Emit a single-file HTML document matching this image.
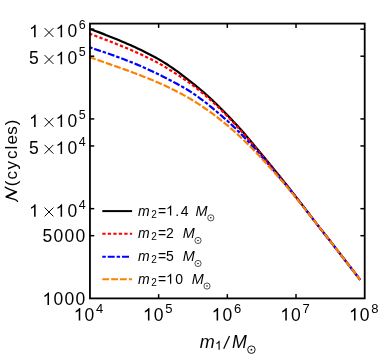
<!DOCTYPE html>
<html><head><meta charset="utf-8"><title>plot</title>
<style>
html,body{margin:0;padding:0;background:#fff;}
body{width:380px;height:354px;overflow:hidden;}
svg{display:block;will-change:transform;}
text{font-family:"Liberation Sans",sans-serif;fill:#000;}
</style></head><body>
<svg width="380" height="354" viewBox="0 0 380 354">
<rect x="0" y="0" width="380" height="354" fill="#fff"/>
<g fill="none" stroke-width="2.2" stroke-linecap="square" stroke-linejoin="round">
<path d="M90.20,28.97 L92.14,29.70 L94.07,30.43 L96.01,31.17 L97.95,31.90 L99.89,32.65 L101.82,33.39 L103.76,34.14 L105.70,34.90 L107.64,35.66 L109.57,36.42 L111.51,37.19 L113.45,37.97 L115.39,38.75 L117.32,39.54 L119.26,40.34 L121.20,41.15 L123.14,41.97 L125.07,42.80 L127.01,43.64 L128.95,44.49 L130.89,45.36 L132.82,46.23 L134.76,47.12 L136.70,48.02 L138.64,48.93 L140.57,49.86 L142.51,50.80 L144.45,51.75 L146.38,52.73 L148.32,53.71 L150.26,54.70 L152.20,55.71 L154.13,56.74 L156.07,57.79 L158.01,58.87 L159.95,59.98 L161.88,61.13 L163.82,62.32 L165.76,63.54 L167.70,64.79 L169.63,66.07 L171.57,67.39 L173.51,68.72 L175.45,70.09 L177.38,71.48 L179.32,72.90 L181.26,74.35 L183.20,75.83 L185.13,77.33 L187.07,78.84 L189.01,80.36 L190.95,81.89 L192.88,83.42 L194.82,84.97 L196.76,86.53 L198.69,88.12 L200.63,89.73 L202.57,91.38 L204.51,93.06 L206.44,94.77 L208.38,96.52 L210.32,98.30 L212.26,100.11 L214.19,101.95 L216.13,103.82 L218.07,105.73 L220.01,107.66 L221.94,109.61 L223.88,111.59 L225.82,113.59 L227.76,115.60 L229.69,117.61 L231.63,119.63 L233.57,121.66 L235.51,123.71 L237.44,125.79 L239.38,127.91 L241.32,130.08 L243.26,132.30 L245.19,134.55 L247.13,136.84 L249.07,139.14 L251.01,141.45 L252.94,143.77 L254.88,146.09 L256.82,148.42 L258.75,150.75 L260.69,153.08 L262.63,155.42 L264.57,157.76 L266.50,160.11 L268.44,162.47 L270.38,164.83 L272.32,167.22 L274.25,169.61 L276.19,172.00 L278.13,174.41 L280.07,176.81 L282.00,179.22 L283.94,181.62 L285.88,184.04 L287.82,186.46 L289.75,188.90 L291.69,191.35 L293.63,193.82 L295.57,196.31 L297.50,198.81 L299.44,201.32 L301.38,203.85 L303.32,206.38 L305.25,208.93 L307.19,211.47 L309.13,214.02 L311.06,216.55 L313.00,219.08 L314.94,221.60 L316.88,224.11 L318.81,226.60 L320.75,229.08 L322.69,231.54 L324.63,234.00 L326.56,236.45 L328.50,238.91 L330.44,241.38 L332.38,243.87 L334.31,246.37 L336.25,248.88 L338.19,251.39 L340.13,253.90 L342.06,256.41 L344.00,258.91 L345.94,261.42 L347.88,263.91 L349.81,266.41 L351.75,268.90 L353.69,271.40 L355.63,273.89 L357.56,276.39 L359.50,278.88" stroke="#000"/>
<path d="M90.20,33.90 L92.14,34.63 L94.07,35.36 L96.01,36.09 L97.95,36.82 L99.89,37.56 L101.82,38.29 L103.76,39.03 L105.70,39.78 L107.64,40.52 L109.57,41.27 L111.51,42.03 L113.45,42.79 L115.39,43.55 L117.32,44.32 L119.26,45.10 L121.20,45.89 L123.14,46.68 L125.07,47.49 L127.01,48.30 L128.95,49.12 L130.89,49.95 L132.82,50.79 L134.76,51.64 L136.70,52.51 L138.64,53.38 L140.57,54.27 L142.51,55.18 L144.45,56.10 L146.38,57.03 L148.32,57.97 L150.26,58.93 L152.20,59.89 L154.13,60.88 L156.07,61.88 L158.01,62.91 L159.95,63.98 L161.88,65.09 L163.82,66.23 L165.76,67.39 L167.70,68.58 L169.63,69.78 L171.57,70.99 L173.51,72.20 L175.45,73.43 L177.38,74.67 L179.32,75.93 L181.26,77.20 L183.20,78.50 L185.13,79.82 L187.07,81.17 L189.01,82.55 L190.95,83.96 L192.88,85.41 L194.82,86.88 L196.76,88.39 L198.69,89.93 L200.63,91.50 L202.57,93.10 L204.51,94.73 L206.44,96.39 L208.38,98.08 L210.32,99.81 L212.26,101.56 L214.19,103.35 L216.13,105.18 L218.07,107.03 L220.01,108.92 L221.94,110.84 L223.88,112.78 L225.82,114.76 L227.76,116.75 L229.69,118.76 L231.63,120.79 L233.57,122.83 L235.51,124.88 L237.44,126.96 L239.38,129.07 L241.32,131.21 L243.26,133.37 L245.19,135.56 L247.13,137.78 L249.07,140.02 L251.01,142.29 L252.94,144.58 L254.88,146.89 L256.82,149.21 L258.75,151.53 L260.69,153.86 L262.63,156.19 L264.57,158.52 L266.50,160.86 L268.44,163.20 L270.38,165.54 L272.32,167.89 L274.25,170.24 L276.19,172.60 L278.13,174.96 L280.07,177.33 L282.00,179.70 L283.94,182.08 L285.88,184.47 L287.82,186.87 L289.75,189.27 L291.69,191.69 L293.63,194.12 L295.57,196.57 L297.50,199.03 L299.44,201.50 L301.38,203.99 L303.32,206.50 L305.25,209.01 L307.19,211.53 L309.13,214.05 L311.06,216.58 L313.00,219.10 L314.94,221.61 L316.88,224.11 L318.81,226.60 L320.75,229.08 L322.69,231.54 L324.63,234.00 L326.56,236.45 L328.50,238.91 L330.44,241.38 L332.38,243.87 L334.31,246.37 L336.25,248.88 L338.19,251.39 L340.13,253.90 L342.06,256.41 L344.00,258.91 L345.94,261.42 L347.88,263.91 L349.81,266.41 L351.75,268.90 L353.69,271.40 L355.63,273.89 L357.56,276.39 L359.50,278.88" stroke="#f00" stroke-dasharray="1.1 4.4"/>
<path d="M90.20,47.46 L92.14,48.14 L94.07,48.80 L96.01,49.46 L97.95,50.11 L99.89,50.75 L101.82,51.40 L103.76,52.04 L105.70,52.70 L107.64,53.36 L109.57,54.03 L111.51,54.72 L113.45,55.42 L115.39,56.13 L117.32,56.85 L119.26,57.57 L121.20,58.30 L123.14,59.03 L125.07,59.77 L127.01,60.52 L128.95,61.27 L130.89,62.03 L132.82,62.80 L134.76,63.59 L136.70,64.39 L138.64,65.21 L140.57,66.04 L142.51,66.89 L144.45,67.75 L146.38,68.62 L148.32,69.50 L150.26,70.39 L152.20,71.28 L154.13,72.18 L156.07,73.09 L158.01,74.02 L159.95,74.96 L161.88,75.93 L163.82,76.92 L165.76,77.92 L167.70,78.93 L169.63,79.95 L171.57,80.96 L173.51,81.98 L175.45,83.00 L177.38,84.04 L179.32,85.09 L181.26,86.16 L183.20,87.25 L185.13,88.38 L187.07,89.54 L189.01,90.74 L190.95,91.98 L192.88,93.27 L194.82,94.60 L196.76,95.97 L198.69,97.37 L200.63,98.79 L202.57,100.23 L204.51,101.70 L206.44,103.20 L208.38,104.72 L210.32,106.28 L212.26,107.87 L214.19,109.48 L216.13,111.12 L218.07,112.77 L220.01,114.44 L221.94,116.11 L223.88,117.80 L225.82,119.50 L227.76,121.23 L229.69,122.99 L231.63,124.78 L233.57,126.61 L235.51,128.48 L237.44,130.38 L239.38,132.31 L241.32,134.28 L243.26,136.28 L245.19,138.31 L247.13,140.37 L249.07,142.46 L251.01,144.57 L252.94,146.71 L254.88,148.87 L256.82,151.05 L258.75,153.25 L260.69,155.46 L262.63,157.68 L264.57,159.91 L266.50,162.15 L268.44,164.40 L270.38,166.66 L272.32,168.94 L274.25,171.22 L276.19,173.52 L278.13,175.82 L280.07,178.12 L282.00,180.43 L283.94,182.74 L285.88,185.06 L287.82,187.39 L289.75,189.73 L291.69,192.09 L293.63,194.46 L295.57,196.86 L297.50,199.26 L299.44,201.69 L301.38,204.13 L303.32,206.58 L305.25,209.05 L307.19,211.53 L309.13,214.03 L311.06,216.54 L313.00,219.06 L314.94,221.58 L316.88,224.09 L318.81,226.60 L320.75,229.08 L322.69,231.55 L324.63,234.00 L326.56,236.45 L328.50,238.91 L330.44,241.38 L332.38,243.87 L334.31,246.37 L336.25,248.88 L338.19,251.39 L340.13,253.90 L342.06,256.41 L344.00,258.91 L345.94,261.41 L347.88,263.91 L349.81,266.41 L351.75,268.91 L353.69,271.42 L355.63,273.94 L357.56,276.46 L359.50,279.00" stroke="#00f" stroke-dasharray="1.3 4.1 4.8 4.1"/>
<path d="M90.20,57.35 L92.14,58.04 L94.07,58.73 L96.01,59.41 L97.95,60.09 L99.89,60.77 L101.82,61.45 L103.76,62.12 L105.70,62.80 L107.64,63.48 L109.57,64.15 L111.51,64.83 L113.45,65.51 L115.39,66.18 L117.32,66.87 L119.26,67.55 L121.20,68.24 L123.14,68.93 L125.07,69.62 L127.01,70.32 L128.95,71.02 L130.89,71.74 L132.82,72.45 L134.76,73.18 L136.70,73.91 L138.64,74.65 L140.57,75.40 L142.51,76.16 L144.45,76.92 L146.38,77.70 L148.32,78.48 L150.26,79.28 L152.20,80.08 L154.13,80.90 L156.07,81.73 L158.01,82.57 L159.95,83.43 L161.88,84.29 L163.82,85.18 L165.76,86.07 L167.70,86.99 L169.63,87.91 L171.57,88.86 L173.51,89.82 L175.45,90.80 L177.38,91.79 L179.32,92.80 L181.26,93.83 L183.20,94.88 L185.13,95.94 L187.07,97.03 L189.01,98.15 L190.95,99.29 L192.88,100.46 L194.82,101.65 L196.76,102.87 L198.69,104.11 L200.63,105.37 L202.57,106.66 L204.51,107.97 L206.44,109.30 L208.38,110.65 L210.32,112.04 L212.26,113.46 L214.19,114.90 L216.13,116.37 L218.07,117.86 L220.01,119.39 L221.94,120.93 L223.88,122.50 L225.82,124.09 L227.76,125.71 L229.69,127.37 L231.63,129.05 L233.57,130.76 L235.51,132.50 L237.44,134.26 L239.38,136.05 L241.32,137.87 L243.26,139.70 L245.19,141.57 L247.13,143.45 L249.07,145.37 L251.01,147.31 L252.94,149.28 L254.88,151.27 L256.82,153.29 L258.75,155.33 L260.69,157.39 L262.63,159.47 L264.57,161.56 L266.50,163.67 L268.44,165.79 L270.38,167.93 L272.32,170.07 L274.25,172.23 L276.19,174.40 L278.13,176.59 L280.07,178.81 L282.00,181.04 L283.94,183.30 L285.88,185.58 L287.82,187.88 L289.75,190.20 L291.69,192.54 L293.63,194.90 L295.57,197.27 L297.50,199.66 L299.44,202.07 L301.38,204.50 L303.32,206.94 L305.25,209.39 L307.19,211.85 L309.13,214.32 L311.06,216.78 L313.00,219.25 L314.94,221.71 L316.88,224.16 L318.81,226.62 L320.75,229.07 L322.69,231.52 L324.63,233.97 L326.56,236.43 L328.50,238.90 L330.44,241.38 L332.38,243.88 L334.31,246.39 L336.25,248.91 L338.19,251.43 L340.13,253.95 L342.06,256.47 L344.00,258.99 L345.94,261.50 L347.88,264.00 L349.81,266.50 L351.75,268.99 L353.69,271.48 L355.63,273.96 L357.56,276.44 L359.50,278.90" stroke="#ff8000" stroke-dasharray="4.6 4.25"/>
</g>
<rect x="89.95" y="23.60" width="274.75" height="274.80" fill="none" stroke="#000" stroke-width="1.80"/>
<g stroke="#000" stroke-width="1.5"><line x1="158.64" y1="298.40" x2="158.64" y2="294.10"/><line x1="158.64" y1="23.60" x2="158.64" y2="27.90"/><line x1="227.32" y1="298.40" x2="227.32" y2="294.10"/><line x1="227.32" y1="23.60" x2="227.32" y2="27.90"/><line x1="296.01" y1="298.40" x2="296.01" y2="294.10"/><line x1="296.01" y1="23.60" x2="296.01" y2="27.90"/><line x1="89.95" y1="235.68" x2="94.25" y2="235.68"/><line x1="364.70" y1="235.68" x2="360.40" y2="235.68"/><line x1="89.95" y1="208.67" x2="94.25" y2="208.67"/><line x1="364.70" y1="208.67" x2="360.40" y2="208.67"/><line x1="89.95" y1="145.95" x2="94.25" y2="145.95"/><line x1="364.70" y1="145.95" x2="360.40" y2="145.95"/><line x1="89.95" y1="118.93" x2="94.25" y2="118.93"/><line x1="364.70" y1="118.93" x2="360.40" y2="118.93"/><line x1="89.95" y1="56.21" x2="94.25" y2="56.21"/><line x1="364.70" y1="56.21" x2="360.40" y2="56.21"/><line x1="89.95" y1="29.20" x2="94.25" y2="29.20"/><line x1="364.70" y1="29.20" x2="360.40" y2="29.20"/></g>
<g fill="#000">
<path d="M763 0H583V1147Q518 1085 412.5 1023T223 930V1104Q373 1174 485 1274T644 1466H763Z" transform="translate(29.10,37.30) scale(0.00854,-0.00854)"/><path d="M44.60,28.10 L53.40,36.90 M44.60,36.90 L53.40,28.10" stroke="#000" stroke-width="1.00" fill="none"/><path d="M763 0H583V1147Q518 1085 412.5 1023T223 930V1104Q373 1174 485 1274T644 1466H763Z" transform="translate(55.60,37.30) scale(0.00854,-0.00854)"/><text x="67.40" y="37.30" font-size="17.5">0</text><text x="78.70" y="29.30" font-size="12.5">6</text><text x="29.10" y="64.31" font-size="17.5">5</text><path d="M44.60,55.11 L53.40,63.91 M44.60,63.91 L53.40,55.11" stroke="#000" stroke-width="1.00" fill="none"/><path d="M763 0H583V1147Q518 1085 412.5 1023T223 930V1104Q373 1174 485 1274T644 1466H763Z" transform="translate(55.60,64.31) scale(0.00854,-0.00854)"/><text x="67.40" y="64.31" font-size="17.5">0</text><text x="78.70" y="56.31" font-size="12.5">5</text><path d="M763 0H583V1147Q518 1085 412.5 1023T223 930V1104Q373 1174 485 1274T644 1466H763Z" transform="translate(29.10,127.03) scale(0.00854,-0.00854)"/><path d="M44.60,117.83 L53.40,126.63 M44.60,126.63 L53.40,117.83" stroke="#000" stroke-width="1.00" fill="none"/><path d="M763 0H583V1147Q518 1085 412.5 1023T223 930V1104Q373 1174 485 1274T644 1466H763Z" transform="translate(55.60,127.03) scale(0.00854,-0.00854)"/><text x="67.40" y="127.03" font-size="17.5">0</text><text x="78.70" y="119.03" font-size="12.5">5</text><text x="29.10" y="154.05" font-size="17.5">5</text><path d="M44.60,144.85 L53.40,153.65 M44.60,153.65 L53.40,144.85" stroke="#000" stroke-width="1.00" fill="none"/><path d="M763 0H583V1147Q518 1085 412.5 1023T223 930V1104Q373 1174 485 1274T644 1466H763Z" transform="translate(55.60,154.05) scale(0.00854,-0.00854)"/><text x="67.40" y="154.05" font-size="17.5">0</text><text x="78.70" y="146.05" font-size="12.5">4</text><path d="M763 0H583V1147Q518 1085 412.5 1023T223 930V1104Q373 1174 485 1274T644 1466H763Z" transform="translate(29.10,216.77) scale(0.00854,-0.00854)"/><path d="M44.60,207.57 L53.40,216.37 M44.60,216.37 L53.40,207.57" stroke="#000" stroke-width="1.00" fill="none"/><path d="M763 0H583V1147Q518 1085 412.5 1023T223 930V1104Q373 1174 485 1274T644 1466H763Z" transform="translate(55.60,216.77) scale(0.00854,-0.00854)"/><text x="67.40" y="216.77" font-size="17.5">0</text><text x="78.70" y="208.77" font-size="12.5">4</text><text x="42.50" y="242.38" font-size="17.5">5</text><text x="53.50" y="242.38" font-size="17.5">0</text><text x="64.50" y="242.38" font-size="17.5">0</text><text x="75.50" y="242.38" font-size="17.5">0</text><path d="M763 0H583V1147Q518 1085 412.5 1023T223 930V1104Q373 1174 485 1274T644 1466H763Z" transform="translate(42.50,304.90) scale(0.00854,-0.00854)"/><text x="53.50" y="304.90" font-size="17.5">0</text><text x="64.50" y="304.90" font-size="17.5">0</text><text x="75.50" y="304.90" font-size="17.5">0</text><path d="M763 0H583V1147Q518 1085 412.5 1023T223 930V1104Q373 1174 485 1274T644 1466H763Z" transform="translate(73.75,320.50) scale(0.00854,-0.00854)"/><text x="84.55" y="320.50" font-size="17.5">0</text><text x="96.05" y="312.60" font-size="13">4</text><path d="M763 0H583V1147Q518 1085 412.5 1023T223 930V1104Q373 1174 485 1274T644 1466H763Z" transform="translate(142.94,320.50) scale(0.00854,-0.00854)"/><text x="153.74" y="320.50" font-size="17.5">0</text><text x="165.24" y="312.60" font-size="13">5</text><path d="M763 0H583V1147Q518 1085 412.5 1023T223 930V1104Q373 1174 485 1274T644 1466H763Z" transform="translate(211.62,320.50) scale(0.00854,-0.00854)"/><text x="222.42" y="320.50" font-size="17.5">0</text><text x="233.92" y="312.60" font-size="13">6</text><path d="M763 0H583V1147Q518 1085 412.5 1023T223 930V1104Q373 1174 485 1274T644 1466H763Z" transform="translate(280.31,320.50) scale(0.00854,-0.00854)"/><text x="291.11" y="320.50" font-size="17.5">0</text><text x="302.61" y="312.60" font-size="13">7</text><path d="M763 0H583V1147Q518 1085 412.5 1023T223 930V1104Q373 1174 485 1274T644 1466H763Z" transform="translate(349.00,320.50) scale(0.00854,-0.00854)"/><text x="359.80" y="320.50" font-size="17.5">0</text><text x="371.30" y="312.60" font-size="13">8</text>
<line x1="103.3" y1="211.10" x2="131.1" y2="211.10" stroke="#000" stroke-width="2" stroke-linecap="square"/><text x="138.00" y="215.50" font-size="14" font-style="italic">m</text><text x="151.20" y="217.80" font-size="10">2</text><text x="158.00" y="215.50" font-size="14">=</text><path d="M763 0H583V1147Q518 1085 412.5 1023T223 930V1104Q373 1174 485 1274T644 1466H763Z" transform="translate(166.00,215.50) scale(0.00684,-0.00684)"/><text x="175.30" y="215.50" font-size="14">.</text><text x="180.70" y="215.50" font-size="14">4</text><text x="195.60" y="215.50" font-size="14.4" font-style="italic">M</text><circle cx="210.80" cy="217.85" r="3.10" fill="none" stroke="#000" stroke-width="0.68"/><circle cx="210.80" cy="217.85" r="0.75" fill="#000"/><line x1="103.3" y1="233.70" x2="131.1" y2="233.70" stroke="#f00" stroke-width="2" stroke-linecap="square" stroke-dasharray="1.3 4.2"/><text x="138.00" y="238.10" font-size="14" font-style="italic">m</text><text x="151.20" y="240.40" font-size="10">2</text><text x="158.00" y="238.10" font-size="14">=</text><text x="166.00" y="238.10" font-size="14">2</text><text x="182.80" y="238.10" font-size="14.4" font-style="italic">M</text><circle cx="198.00" cy="240.45" r="3.10" fill="none" stroke="#000" stroke-width="0.68"/><circle cx="198.00" cy="240.45" r="0.75" fill="#000"/><line x1="103.3" y1="256.70" x2="131.1" y2="256.70" stroke="#00f" stroke-width="2" stroke-linecap="square" stroke-dasharray="1.5 3.9 5 3.9"/><text x="138.00" y="261.10" font-size="14" font-style="italic">m</text><text x="151.20" y="263.40" font-size="10">2</text><text x="158.00" y="261.10" font-size="14">=</text><text x="166.00" y="261.10" font-size="14">5</text><text x="182.80" y="261.10" font-size="14.4" font-style="italic">M</text><circle cx="198.00" cy="263.45" r="3.10" fill="none" stroke="#000" stroke-width="0.68"/><circle cx="198.00" cy="263.45" r="0.75" fill="#000"/><line x1="103.3" y1="279.30" x2="131.1" y2="279.30" stroke="#ff8000" stroke-width="2" stroke-linecap="square" stroke-dasharray="4.8 4.05"/><text x="138.00" y="283.70" font-size="14" font-style="italic">m</text><text x="151.20" y="286.00" font-size="10">2</text><text x="158.00" y="283.70" font-size="14">=</text><path d="M763 0H583V1147Q518 1085 412.5 1023T223 930V1104Q373 1174 485 1274T644 1466H763Z" transform="translate(166.00,283.70) scale(0.00684,-0.00684)"/><text x="175.30" y="283.70" font-size="14">0</text><text x="191.80" y="283.70" font-size="14.4" font-style="italic">M</text><circle cx="207.00" cy="286.05" r="3.10" fill="none" stroke="#000" stroke-width="0.68"/><circle cx="207.00" cy="286.05" r="0.75" fill="#000"/>
<text x="199.70" y="347.50" font-size="18" font-style="italic">m</text><path d="M763 0H583V1147Q518 1085 412.5 1023T223 930V1104Q373 1174 485 1274T644 1466H763Z" transform="translate(215.00,349.80) scale(0.00610,-0.00610)"/><path d="M223.7,348.7 L229.5,336.1" stroke="#000" stroke-width="1.25" fill="none"/><text x="232.00" y="347.50" font-size="17.8" font-style="italic">M</text><circle cx="251.40" cy="349.70" r="3.75" fill="none" stroke="#000" stroke-width="0.90"/><circle cx="251.40" cy="349.70" r="0.90" fill="#000"/>
<g transform="translate(17.45,201.7) rotate(-90)"><text x="15.50" y="0.00" font-size="17">(</text><text x="22.30" y="0.00" font-size="17">c</text><text x="32.20" y="0.00" font-size="17">y</text><text x="42.70" y="0.00" font-size="17">c</text><text x="52.20" y="0.00" font-size="17">l</text><text x="57.25" y="0.00" font-size="17">e</text><text x="67.00" y="0.00" font-size="17">s</text><text x="76.50" y="0.00" font-size="17">)</text></g>
<g transform="translate(17.5,201.7) rotate(-90)" fill="none" stroke="#000" stroke-linecap="round"><path d="M0.2,0.1 C1.3,-0.5 1.9,-1.6 2.3,-2.9 C2.9,-4.8 3.9,-8 4.9,-11.5" stroke-width="1.3"/><path d="M4.9,-11.5 L9.9,-1.1" stroke-width="2.0" stroke-linecap="butt"/><path d="M9.9,-1.0 C10.6,-3 11.2,-5 11.8,-6.5 C12.4,-8.2 13.3,-10.4 14.6,-12.3" stroke-width="1.3"/></g>
</g>
</svg>
</body></html>
